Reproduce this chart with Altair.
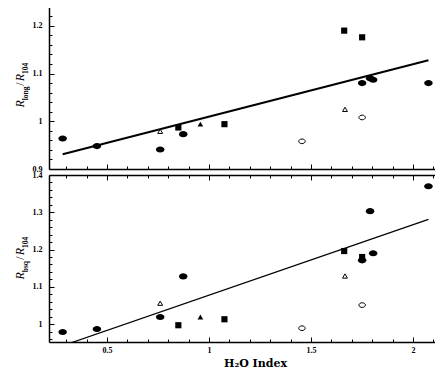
import altair as alt
import pandas as pd

# ---------------- data ----------------
# H2O index values for each symbol family (shared by both panels)
h2o_fc = [0.283, 0.451, 0.761, 0.874, 1.751, 1.790, 1.805, 2.076]   # filled circles
h2o_fs = [0.850, 1.076, 1.663, 1.751]                                # filled squares
h2o_ft = [0.958]                                                     # filled triangles
h2o_oc = [1.456, 1.751]                                              # open circles
h2o_ot = [0.761, 1.667]                                              # open triangles

# top panel: R_long / R_104
long_fc = [0.964, 0.948, 0.941, 0.973, 1.080, 1.090, 1.087, 1.080]
long_fs = [0.987, 0.994, 1.190, 1.176]
long_ft = [0.994]
long_oc = [0.958, 1.008]
long_ot = [0.979, 1.025]
long_fit_x = [0.283, 2.076]
long_fit_y = [0.931, 1.128]

# bottom panel: R_bsq / R_104
bsq_fc = [0.979, 0.987, 1.019, 1.128, 1.171, 1.303, 1.190, 1.370]
bsq_fs = [0.997, 1.013, 1.196, 1.180]
bsq_ft = [1.019]
bsq_oc = [0.989, 1.051]
bsq_ot = [1.056, 1.129]
bsq_fit_x = [0.283, 2.076]
bsq_fit_y = [0.942, 1.281]

x_major = [0.5, 1, 1.5, 2]
x_minor = [round(0.3 + 0.1 * i, 1) for i in range(19) if round((0.3 + 0.1 * i) * 10) % 5 != 0]
top_y_major = [0.9, 1, 1.1, 1.2]
top_y_minor = [round(0.9 + 0.02 * i, 2) for i in range(18) if round((0.9 + 0.02 * i) * 100) % 10 != 0]
bot_y_major = [1, 1.1, 1.2, 1.3, 1.4]
bot_y_minor = [round(0.96 + 0.02 * i, 2) for i in range(23) if round((0.96 + 0.02 * i) * 100) % 10 != 0]

W, H = 386, 167
X_DOMAIN = [0.216, 0.216 + W / 204.0]
LBL_FONT = "Liberation Serif"
ELLIPSE = "M-1,0A1,0.72,0,1,1,1,0A1,0.72,0,1,1,-1,0Z"


def df(xs, ys):
    return pd.DataFrame({"x": xs, "y": ys})


def label_axis_common():
    return dict(labelFont=LBL_FONT, labelFontSize=8, labelFontWeight="bold",
                labelColor="black", labelFlush=False, labelOverlap=False,
                labelExpr="'' + datum.value")


def tick_axis(orient, offset, values, size):
    return alt.Axis(orient=orient, offset=offset, values=values, tickSize=size,
                    tickColor="black", tickWidth=1, domain=False, grid=False,
                    labels=False, title=None)


def frame_axis(orient):
    return alt.Axis(orient=orient, offset=0, domain=True, domainColor="black",
                    domainWidth=1.5, ticks=False, labels=False, grid=False, title=None)


def panel(yvals, ydom, ymaj, ymin, fit_x, fit_y, fit_w, sub, show_x):
    fc, fs, ft, oc, ot = yvals
    xs = alt.Scale(domain=X_DOMAIN, nice=False, zero=False)
    ys = alt.Scale(domain=ydom, nice=False, zero=False)

    if show_x:
        ax_bottom = alt.Axis(orient="bottom", offset=-5, values=x_major, tickSize=5,
                             tickColor="black", tickWidth=1, domain=False, grid=False,
                             labelPadding=4, title="H\u2082O Index", titleFont="DejaVu Serif",
                             titleFontSize=11, titleFontWeight="bold", titleColor="black",
                             titleX=206, titlePadding=3, **label_axis_common())
    else:
        ax_bottom = tick_axis("bottom", -5, x_major, 5)
    ax_left = alt.Axis(orient="left", offset=-5, values=ymaj, tickSize=5,
                       tickColor="black", tickWidth=1, domain=False, grid=False,
                       labelPadding=7, title=None, **label_axis_common())

    def enc(c, xa, ya):
        return c.encode(x=alt.X("x:Q", scale=xs, axis=xa),
                        y=alt.Y("y:Q", scale=ys, axis=ya))

    line = enc(alt.Chart(df(fit_x, fit_y)).mark_line(color="black", strokeWidth=fit_w, clip=True),
               ax_bottom, ax_left)
    p_fc = enc(alt.Chart(df(h2o_fc, fc)).mark_point(shape=ELLIPSE, size=72, filled=True,
                                                    color="black", opacity=1),
               tick_axis("bottom", -3, x_minor, 3), tick_axis("left", -3, ymin, 3))
    p_fs = enc(alt.Chart(df(h2o_fs, fs)).mark_point(shape="square", size=38, filled=True,
                                                    color="black", opacity=1),
               tick_axis("bottom", -H, x_major, 5), None)
    p_ft = enc(alt.Chart(df(h2o_ft, ft)).mark_point(shape="triangle-up", size=32, filled=True,
                                                    color="black", opacity=1),
               tick_axis("bottom", -H, x_minor, 3), None)
    p_oc = enc(alt.Chart(df(h2o_oc, oc)).mark_point(shape=ELLIPSE, size=42, filled=False,
                                                    stroke="black", fill="white",
                                                    strokeWidth=1, opacity=1),
               frame_axis("bottom"), frame_axis("left"))
    p_ot = enc(alt.Chart(df(h2o_ot, ot)).mark_point(shape="triangle-up", size=24, filled=False,
                                                    stroke="black", fill="white",
                                                    strokeWidth=1, opacity=1),
               frame_axis("top"), None)

    # rotated y title: R_sub / R_104
    pieces = [("R", "main"), (sub, "sub"), ("/", "slash"), ("R", "main"), ("104", "sub")]
    widths = {"R": 7.3, "long": 14.5, "bsq": 12.5, "/": 4.5, "104": 10.5}
    total = sum(widths[t] for t, _ in pieces)
    ypos = H / 2 + total / 2
    texts = []
    for t, kind in pieces:
        if kind == "main":
            m = alt.Chart(pd.DataFrame({"t": [t]})).mark_text(
                angle=270, align="left", baseline="alphabetic", font=LBL_FONT,
                fontSize=12, fontStyle="italic", color="black")
            xv = -25
        elif kind == "slash":
            m = alt.Chart(pd.DataFrame({"t": [t]})).mark_text(
                angle=270, align="left", baseline="alphabetic", font=LBL_FONT,
                fontSize=12, color="black")
            xv = -25
        else:
            m = alt.Chart(pd.DataFrame({"t": [t]})).mark_text(
                angle=270, align="left", baseline="alphabetic", font=LBL_FONT,
                fontSize=7.5, fontWeight="bold", color="black")
            xv = -21.5
        texts.append(m.encode(text="t:N", x=alt.value(xv), y=alt.value(ypos)))
        ypos -= widths[t]

    return alt.layer(line, p_fc, p_fs, p_ft, p_oc, p_ot, *texts).resolve_axis(
        x="independent", y="independent").properties(width=W, height=H)


top = panel((long_fc, long_fs, long_ft, long_oc, long_ot), [0.9, 1.25],
            top_y_major, top_y_minor, long_fit_x, long_fit_y, 2, "long", False)
bottom = panel((bsq_fc, bsq_fs, bsq_ft, bsq_oc, bsq_ot), [0.952, 1.4],
               bot_y_major, bot_y_minor, bsq_fit_x, bsq_fit_y, 1.2, "bsq", True)

chart = alt.vconcat(top, bottom, spacing=6, bounds="flush").properties(
    padding={"left": 5, "top": -7, "right": 0, "bottom": 0},
    background="white",
).configure_view(stroke=None)

chart.save("out.html", embed_options={"renderer": "svg", "actions": False})
